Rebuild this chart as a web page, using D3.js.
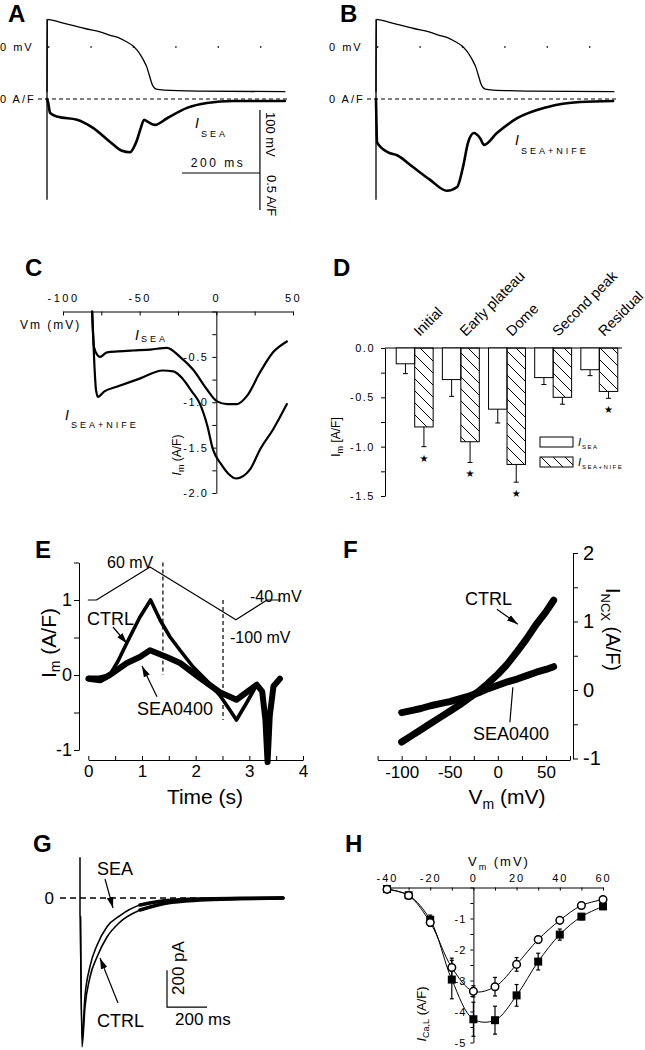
<!DOCTYPE html>
<html>
<head>
<meta charset="utf-8">
<script src="https://cdn.jsdelivr.net/npm/d3@7/dist/d3.min.js"></script>
<style>html,body{margin:0;padding:0;background:#fff;}svg{display:block;}</style>
</head>
<body>
<svg id="fig" width="645" height="1050"></svg>
<script>
// ================= DATA =================
// A/B: action potential command (ms, mV)
const apTime = [0, 1, 30, 60, 100, 136, 160, 190, 205, 220, 231, 240, 250, 256, 262, 270, 280, 300, 392, 610];
const apVolt = [-71, 44, 40, 35, 29, 24, 19, 13, 8, 2, -5, -13, -24, -32, -44, -60, -67, -68.5, -70, -71];
const transientI = -1.36;
// A: I_SEA (ms, A/F)
const aTime = [0, 3, 8, 28, 77, 118, 162, 192, 213, 222, 231, 240, 249, 259, 277, 308, 359, 410, 477, 610];
const aCurrent = [0, -0.05, -0.19, -0.24, -0.28, -0.39, -0.58, -0.70, -0.72, -0.66, -0.55, -0.40, -0.28, -0.31, -0.35, -0.26, -0.12, -0.054, -0.027, -0.027];
// B: I_SEA+NIFE (ms, A/F)
const bTime = [0, 3, 31, 54, 95, 138, 182, 208, 223, 236, 251, 267, 277, 310, 362, 438, 523, 608];
const bCurrent = [0, -0.59, -0.72, -0.76, -0.92, -1.09, -1.24, -1.19, -0.92, -0.59, -0.46, -0.53, -0.62, -0.46, -0.26, -0.11, -0.04, -0.027];
// A scale bar (ms, A/F)
const scaleBarT = [346, 546];
const scaleBarI = [-0.15, -1.0, -1.5];

// C: current vs voltage (mV, A/F)
const cVmSea = [-81, -79.8, -77.5, -75.9, -71.3, -64, -54.3, -43, -32.2, -23.7, -15.2, -6.1, 0.5, 7, 13.5, 20, 28.5, 37, 46];
const cISea = [0, -0.39, -0.48, -0.50, -0.45, -0.44, -0.43, -0.42, -0.40, -0.50, -0.64, -0.86, -0.99, -1.02, -1.02, -0.93, -0.67, -0.45, -0.33];
const cVmNife = [-81, -79.5, -78.5, -77.2, -73, -65, -50, -35, -28, -22, -16, -10.6, -6, -2.2, 3, 8, 13, 22, 28.5, 37, 46];
const cINife = [0, -0.6, -0.86, -0.94, -0.88, -0.83, -0.74, -0.65, -0.66, -0.74, -0.88, -1.02, -1.25, -1.52, -1.68, -1.79, -1.84, -1.74, -1.52, -1.3, -1.02];
const cXTicks = [-100, -75, -50, -25, 0, 25, 50];
const cXLabels = [-100, -50, 0, 50];
const cYTicks = [0, -0.25, -0.5, -0.75, -1, -1.25, -1.5, -1.75, -2];
const cYLabels = [-0.5, -1, -1.5, -2];

// D: bar chart (A/F)
const dCategories = ["Initial", "Early plateau", "Dome", "Second peak", "Residual"];
const dSeries = ["SEA", "SEA+NIFE"];
const dSea = [-0.16, -0.32, -0.62, -0.30, -0.22];
const dSeaErr = [0.10, 0.17, 0.14, 0.07, 0.06];
const dNife = [-0.80, -0.95, -1.18, -0.50, -0.44];
const dNifeErr = [0.20, 0.21, 0.18, 0.07, 0.07];
const dNifeSig = [true, true, true, false, true];
const dYTicks = [0, -0.25, -0.5, -0.75, -1, -1.25, -1.5];
const dYLabels = [0, -0.5, -1, -1.5];

// E: ramp protocol (s, mV) and currents (s, A/F)
const eProtoTime = [0, 0.15, 1.15, 2.75, 3.33, 3.58];
const eProtoMv = [-40, -40, 60, -100, -40, -40];
const eCtrlTime = [0, 0.2, 0.4, 0.55, 0.72, 0.96, 1.16, 1.34, 1.52, 1.71, 1.95, 2.2, 2.45, 2.64, 2.76, 2.95, 3.14, 3.24, 3.3, 3.34, 3.38, 3.45, 3.57];
const eCtrlI = [-0.03, -0.03, 0.0, 0.18, 0.43, 0.77, 1.0, 0.73, 0.51, 0.33, 0.11, -0.07, -0.27, -0.47, -0.6, -0.37, -0.13, -0.22, -0.6, -1.16, -0.55, -0.15, -0.04];
const eSeaTime = [0, 0.22, 0.4, 0.72, 0.96, 1.15, 1.46, 1.71, 2.08, 2.45, 2.76, 2.95, 3.14, 3.24, 3.3, 3.34, 3.38, 3.45, 3.57];
const eSeaI = [-0.05, -0.07, 0.0, 0.16, 0.24, 0.33, 0.24, 0.16, -0.04, -0.23, -0.33, -0.23, -0.13, -0.22, -0.6, -1.16, -0.55, -0.15, -0.05];
const eCursorTime = [1.39, 2.51];
const eCursorTop = [1.5, 1.0];
const eCursorBottom = [0, -0.6];
const eXTicks = [0, 0.5, 1, 1.5, 2, 2.5, 3, 3.5, 4];
const eYTicks = [-1, -0.5, 0, 0.5, 1, 1.5];

// F: I-V of NCX (mV, A/F)
const fVm = [-100, -90, -80, -70, -60, -50, -40, -30, -20, -10, 0, 10, 20, 30, 40, 50, 58];
const fCtrl = [-0.76, -0.67, -0.58, -0.49, -0.4, -0.31, -0.22, -0.12, -0.02, 0.1, 0.23, 0.38, 0.56, 0.75, 0.96, 1.14, 1.31];
const fSea = [-0.33, -0.3, -0.27, -0.23, -0.2, -0.17, -0.13, -0.09, -0.04, 0.02, 0.07, 0.12, 0.16, 0.21, 0.26, 0.3, 0.34];
const fXTicks = [-125, -100, -75, -50, -25, 0, 25, 50, 75];
const fXLabels = [-100, -50, 0, 50];
const fYTicks = [-1, -0.5, 0, 0.5, 1, 1.5, 2];

// G: L-type Ca current traces (ms, pA)
const gTime = [2, 10, 25, 50, 85, 135, 200, 300, 435, 600, 800, 1015];
const gCtrl = [-100, -805, -589, -427, -319, -211, -130, -65, -27, -11, -4, 0];
const gSea = [-100, -760, -530, -370, -255, -155, -95, -38, -14, -5, -2, 0];
const gArtifact = [220, -100];
const gScaleT = [435, 635];
const gScaleI = [-390, -590];

// H: I-V of ICa,L (mV, A/F)
const hVm = [-40, -30, -20, -10, 0, 10, 20, 30, 40, 50, 60];
const hSea = [-0.06, -0.26, -1.13, -2.58, -3.35, -3.2, -2.48, -1.68, -1.06, -0.58, -0.39];
const hSeaErr = [0.03, 0.05, 0.12, 0.3, 0.18, 0.3, 0.22, 0.1, 0.08, 0.06, 0.05];
const hCtrl = [-0.05, -0.25, -1.04, -2.97, -4.25, -4.28, -3.48, -2.39, -1.52, -0.94, -0.61];
const hCtrlErr = [0.03, 0.05, 0.15, 0.62, 0.55, 0.45, 0.35, 0.27, 0.18, 0.1, 0.08];
const hXTicks = [-40, -30, -20, -10, 0, 10, 20, 30, 40, 50, 60];
const hXLabels = [-40, -20, 0, 20, 40, 60];
const hYTicks = [0, -0.5, -1, -1.5, -2, -2.5, -3, -3.5, -4, -4.5, -5];
const hYLabels = [-1, -2, -3, -4, -5];

// ================= DRAWING =================
const FONT = "'Liberation Sans', Arial, Helvetica, sans-serif";
const svg = d3.select("#fig");
svg.append("rect").attr("width", 645).attr("height", 1050).attr("fill", "#fff");
const defs = svg.append("defs");
defs.append("pattern").attr("id", "hatch").attr("patternUnits", "userSpaceOnUse")
  .attr("width", 12).attr("height", 12)
  .append("path").attr("d", "M-1,-1L13,13M-1,11L1,13M11,-1L13,1")
  .attr("stroke", "#000").attr("stroke-width", 1).attr("fill", "none");
defs.append("marker").attr("id", "arr").attr("viewBox", "0 0 10 6")
  .attr("refX", 10).attr("refY", 3).attr("markerWidth", 11).attr("markerHeight", 7)
  .attr("markerUnits", "userSpaceOnUse").attr("orient", "auto")
  .append("path").attr("d", "M0,0L10,3L0,6Z").attr("fill", "#000");

function txt(parent, x, y, content, o = {}) {
  let tr = `translate(${x},${y})`;
  if (o.rot) tr += ` rotate(${o.rot})`;
  const t = parent.append("text").attr("transform", tr)
    .attr("font-family", o.family || FONT).attr("font-size", o.size || 12)
    .attr("text-anchor", o.anchor || "start").attr("fill", "#000");
  if (o.weight) t.attr("font-weight", o.weight);
  if (o.italic) t.attr("font-style", "italic");
  if (o.ls) t.attr("letter-spacing", o.ls);
  if (typeof content === "string") { t.text(content); return t; }
  content.forEach(p => {
    const s = t.append("tspan").text(p.t);
    if (p.size) s.attr("font-size", p.size);
    if (p.dy) s.attr("dy", p.dy);
    if (p.dx) s.attr("dx", p.dx);
    if (p.italic) s.attr("font-style", "italic");
    if (p.ls != null) s.attr("letter-spacing", p.ls);
  });
  return t;
}
function arrow(parent, x1, y1, x2, y2, head = true) {
  const l = parent.append("line").attr("x1", x1).attr("y1", y1).attr("x2", x2).attr("y2", y2)
    .attr("stroke", "#000").attr("stroke-width", 1.2);
  if (head) l.attr("marker-end", "url(#arr)");
}
function styleAxis(g, size, ls) {
  g.attr("font-family", FONT).attr("font-size", size);
  g.selectAll("text").attr("fill", "#000").attr("letter-spacing", ls || 0);
  g.selectAll("path,line").attr("stroke", "#000").attr("stroke-width", 1);
}
function trace(parent, xs, ys, xArr, yArr, width, curve) {
  return parent.append("path").datum(d3.zip(xArr, yArr))
    .attr("d", d3.line().x(d => xs(d[0])).y(d => ys(d[1])).curve(curve || d3.curveLinear))
    .attr("fill", "none").attr("stroke", "#000").attr("stroke-width", width)
    .attr("stroke-linejoin", "round").attr("stroke-linecap", "round");
}

// Panel letters
[["A", 8, 22], ["B", 340, 22], ["C", 25, 276], ["D", 333, 276], ["E", 35, 558], ["F", 343, 558], ["G", 33, 852], ["H", 345, 852]]
  .forEach(([l, x, y]) => txt(svg, x, y, l, { size: 24, weight: "bold" }));

// ---------- A / B ----------
function drawAB(ox, tArr, iArr) {
  const g = svg.append("g");
  const x = d3.scaleLinear().domain([0, 610]).range([ox, ox + 610 * 0.39]);
  const yV = d3.scaleLinear().domain([0, 44]).range([47, 19.3]);
  const yI = d3.scaleLinear().domain([0, -1]).range([99, 173]);
  g.append("line").attr("x1", x(0) + 1).attr("x2", x(610)).attr("y1", yV(0)).attr("y2", yV(0))
    .attr("stroke", "#000").attr("stroke-width", 1.4).attr("stroke-dasharray", "1.4 41");
  g.append("line").attr("x1", x(0) - 9).attr("x2", x(610) + 3).attr("y1", yI(0)).attr("y2", yI(0))
    .attr("stroke", "#000").attr("stroke-width", 1.2).attr("stroke-dasharray", "4 3");
  g.append("line").attr("x1", x(0)).attr("x2", x(0)).attr("y1", yV(d3.max(apVolt))).attr("y2", yI(transientI))
    .attr("stroke", "#000").attr("stroke-width", 1.3);
  trace(g, x, yV, apTime, apVolt, 1.3, d3.curveMonotoneX);
  trace(g, x, yI, tArr, iArr, 2.6, d3.curveMonotoneX);
  txt(g, ox - 47, yV(0) + 4, "0 mV", { size: 11, ls: 2 });
  txt(g, ox - 47, yI(0) + 4, "0 A/F", { size: 11, ls: 2 });
  return { g, x, yV, yI };
}
const A = drawAB(47, aTime, aCurrent);
A.g.append("line").attr("x1", A.x(scaleBarT[0])).attr("x2", A.x(scaleBarT[1]))
  .attr("y1", A.yI(scaleBarI[1])).attr("y2", A.yI(scaleBarI[1])).attr("stroke", "#000").attr("stroke-width", 1.2);
A.g.append("line").attr("x1", A.x(scaleBarT[1])).attr("x2", A.x(scaleBarT[1]))
  .attr("y1", A.yI(scaleBarI[0])).attr("y2", A.yI(scaleBarI[2])).attr("stroke", "#000").attr("stroke-width", 1.2);
txt(A.g, 218, 167, "200 ms", { size: 12, ls: 2.5, anchor: "middle" });
txt(A.g, 266, 112, "100 mV", { size: 13, rot: 90 });
txt(A.g, 267, 175, "0.5 A/F", { size: 13, rot: 90 });
txt(A.g, 195, 128, [{ t: "I", italic: true, size: 14 }, { t: "SEA", size: 9, dy: 9, dx: 2, ls: 3 }], {});
const B = drawAB(376, bTime, bCurrent);
txt(B.g, 515, 145, [{ t: "I", italic: true, size: 14 }, { t: "SEA+NIFE", size: 9, dy: 9, dx: 2, ls: 3 }], {});

// ---------- C ----------
const gC = svg.append("g");
const xC = d3.scaleLinear().domain([-100, 50]).range([63, 293]);
const yC = d3.scaleLinear().domain([0, -2]).range([311.5, 493]);
const cTop = gC.append("g").attr("transform", `translate(0,${yC(0)})`)
  .call(d3.axisTop(xC).tickValues(cXTicks).tickSize(-4).tickSizeOuter(0).tickPadding(9.5)
    .tickFormat(d => cXLabels.includes(d) ? String(d) : ""));
styleAxis(cTop, 11, 2.5);
const cLeft = gC.append("g").attr("transform", `translate(${xC(0)},0)`)
  .call(d3.axisLeft(yC).tickValues(cYTicks).tickSize(4).tickSizeOuter(0).tickPadding(4)
    .tickFormat(d => cYLabels.includes(d) ? d.toFixed(1) : ""));
styleAxis(cLeft, 11, 1.5);
trace(gC, xC, yC, cVmSea, cISea, 2.2, d3.curveMonotoneX);
trace(gC, xC, yC, cVmNife, cINife, 2.2, d3.curveMonotoneX);
txt(gC, 20, 329, "Vm (mV)", { size: 12, ls: 2 });
txt(gC, 135, 340, [{ t: "I", italic: true, size: 14 }, { t: "SEA", size: 9, dy: 2, dx: 2, ls: 3 }], {});
txt(gC, 65, 420, [{ t: "I", italic: true, size: 14 }, { t: "SEA+NIFE", size: 9, dy: 8, dx: 2, ls: 3 }], {});
txt(gC, 181, 455, [{ t: "I", italic: true }, { t: "m", size: 9, dy: 3 }, { t: " (A/F)", dy: -3 }], { rot: -90, anchor: "middle", size: 12 });

// ---------- D ----------
const gD = svg.append("g");
const xD = d3.scaleBand().domain(dCategories).range([387, 627]).paddingInner(0.2).paddingOuter(0.2);
const xDs = d3.scaleBand().domain(dSeries).range([0, xD.bandwidth()]);
const yD = d3.scaleLinear().domain([0, -1.5]).range([348, 496]);
const dAx = gD.append("g").attr("transform", "translate(385,0)")
  .call(d3.axisLeft(yD).tickValues(dYTicks).tickSize(4).tickSizeOuter(0).tickPadding(6)
    .tickFormat(d => dYLabels.includes(d) ? d.toFixed(1) : ""));
styleAxis(dAx, 11, 1.5);
gD.append("line").attr("x1", 385).attr("x2", 622).attr("y1", yD(0)).attr("y2", yD(0)).attr("stroke", "#000");
const dVals = [dSea, dNife], dErrs = [dSeaErr, dNifeErr];
dSeries.forEach((s, si) => {
  const bw = xDs.bandwidth();
  gD.selectAll(null).data(dCategories).join("rect")
    .attr("x", c => xD(c) + xDs(s)).attr("y", yD(0)).attr("width", bw)
    .attr("height", (c, i) => yD(dVals[si][i]) - yD(0))
    .attr("fill", si ? "url(#hatch)" : "#fff").attr("stroke", "#000").attr("stroke-width", 1);
  dCategories.forEach((c, i) => {
    const cx = xD(c) + xDs(s) + bw / 2, v = dVals[si][i], e = dErrs[si][i];
    gD.append("line").attr("x1", cx).attr("x2", cx).attr("y1", yD(v)).attr("y2", yD(v - e)).attr("stroke", "#000");
    gD.append("line").attr("x1", cx - 2.5).attr("x2", cx + 2.5).attr("y1", yD(v - e)).attr("y2", yD(v - e)).attr("stroke", "#000");
    if (si === 1 && dNifeSig[i]) txt(gD, cx, yD(v - e) + 15, "★", { size: 10, anchor: "middle", family: "DejaVu Sans" });
  });
});
dCategories.forEach(c => txt(gD, xD(c) + xD.bandwidth() / 2 + 5, 337, c, { size: 14.5, rot: -45 }));
gD.append("rect").attr("x", 540).attr("y", 437).attr("width", 33).attr("height", 10).attr("fill", "#fff").attr("stroke", "#000");
gD.append("rect").attr("x", 540).attr("y", 457).attr("width", 33).attr("height", 10).attr("fill", "url(#hatch)").attr("stroke", "#000");
txt(gD, 578, 446, [{ t: "I", italic: true, size: 11 }, { t: "SEA", size: 6, dy: 3, dx: 1, ls: 1.5 }], {});
txt(gD, 578, 466, [{ t: "I", italic: true, size: 11 }, { t: "SEA+NIFE", size: 6, dy: 3, dx: 1, ls: 1.5 }], {});
txt(gD, 340, 437, [{ t: "I" }, { t: "m", size: 9, dy: 3 }, { t: " [A/F]", dy: -3 }], { rot: -90, anchor: "middle", size: 12 });

// ---------- E ----------
const gE = svg.append("g");
const xE = d3.scaleLinear().domain([0, 4]).range([88.3, 303]);
const yE = d3.scaleLinear().domain([-1, 1.5]).range([750, 562.5]);
const yP = d3.scaleLinear().domain([-100, 60]).range([619.8, 567]);
const eX = gE.append("g").attr("transform", "translate(0,760)")
  .call(d3.axisBottom(xE).tickValues(eXTicks).tickSize(-4).tickSizeOuter(0).tickPadding(5)
    .tickFormat(d => Number.isInteger(d) ? String(d) : ""));
styleAxis(eX, 17);
const eY = gE.append("g").attr("transform", "translate(79,0)")
  .call(d3.axisLeft(yE).tickValues(eYTicks).tickSize(5).tickSizeOuter(0).tickPadding(2)
    .tickFormat(d => Number.isInteger(d) ? String(d) : ""));
styleAxis(eY, 18);
eCursorTime.forEach((t, i) => gE.append("line").attr("x1", xE(t)).attr("x2", xE(t))
  .attr("y1", yE(eCursorTop[i])).attr("y2", yE(eCursorBottom[i]))
  .attr("stroke", "#000").attr("stroke-width", 1.2).attr("stroke-dasharray", "4 3"));
trace(gE, xE, yP, eProtoTime, eProtoMv, 1.2);
trace(gE, xE, yE, eSeaTime, eSeaI, 6);
trace(gE, xE, yE, eCtrlTime, eCtrlI, 3.6);
txt(gE, 107, 568, "60 mV", { size: 16 });
txt(gE, 250, 602, "-40 mV", { size: 16 });
txt(gE, 230, 643, "-100 mV", { size: 16 });
txt(gE, 87, 625, "CTRL", { size: 18 });
txt(gE, 137, 715, "SEA0400", { size: 18 });
arrow(gE, xE(0.46), yE(0.64), xE(0.72), yE(0.42));
arrow(gE, xE(1.28), yE(-0.29), xE(1.0), yE(0.12));
txt(gE, 56, 643, [{ t: "I" }, { t: "m", size: 14, dy: 4 }, { t: " (A/F)", dy: -4 }], { rot: -90, anchor: "middle", size: 21 });
txt(gE, 205, 804, "Time (s)", { size: 21, anchor: "middle" });

// ---------- F ----------
const gF = svg.append("g");
const xF = d3.scaleLinear().domain([-125, 75]).range([377.6, 570]);
const yF = d3.scaleLinear().domain([-1, 2]).range([758.5, 553]);
const fX = gF.append("g").attr("transform", "translate(0,760)")
  .call(d3.axisBottom(xF).tickValues(fXTicks).tickSize(-4).tickSizeOuter(0).tickPadding(6)
    .tickFormat(d => fXLabels.includes(d) ? String(d) : ""));
styleAxis(fX, 17);
const fY = gF.append("g").attr("transform", "translate(573,0)")
  .call(d3.axisRight(yF).tickValues(fYTicks).tickSize(5).tickSizeOuter(0).tickPadding(5)
    .tickFormat(d => Number.isInteger(d) ? String(d) : ""));
styleAxis(fY, 20);
trace(gF, xF, yF, fVm, fSea, 7);
trace(gF, xF, yF, fVm, fCtrl, 7);
txt(gF, 465, 605, "CTRL", { size: 18 });
txt(gF, 473, 740, "SEA0400", { size: 18 });
arrow(gF, xF(-1), yF(1.18), xF(20.8), yF(0.96));
arrow(gF, xF(12.5), yF(-0.47), xF(15.6), yF(0.04), false);
txt(gF, 507, 804, [{ t: "V" }, { t: "m", size: 14, dy: 5 }, { t: " (mV)", dy: -5 }], { size: 21, anchor: "middle" });
txt(gF, 606, 588, [{ t: "I" }, { t: "NCX", size: 13, dy: 5 }, { t: " (A/F)", dy: -5 }], { size: 20, rot: 90 });

// ---------- G ----------
const gG = svg.append("g");
const xG = d3.scaleLinear().domain([0, 1000]).range([80, 280]);
const yG = d3.scaleLinear().domain([0, -1000]).range([898, 1083]);
gG.append("line").attr("x1", xG(-100)).attr("x2", xG(1015)).attr("y1", yG(0)).attr("y2", yG(0))
  .attr("stroke", "#000").attr("stroke-width", 1.4).attr("stroke-dasharray", "6 4");
gG.append("line").attr("x1", xG(0)).attr("x2", xG(0)).attr("y1", yG(gArtifact[0])).attr("y2", yG(gArtifact[1]))
  .attr("stroke", "#000").attr("stroke-width", 1.5);
trace(gG, xG, yG, gTime, gCtrl, 1.6, d3.curveMonotoneX);
trace(gG, xG, yG, gTime, gSea, 1.6, d3.curveMonotoneX);
const gTail = gTime.map((t, i) => i).filter(i => gTime[i] >= 300);
trace(gG, xG, yG, gTail.map(i => gTime[i]), gTail.map(i => gCtrl[i]), 3.5, d3.curveMonotoneX);
trace(gG, xG, yG, gTail.map(i => gTime[i]), gTail.map(i => gSea[i]), 3.5, d3.curveMonotoneX);
gG.append("path").attr("d", `M${xG(gScaleT[0])},${yG(gScaleI[0])}V${yG(gScaleI[1])}H${xG(gScaleT[1])}`)
  .attr("fill", "none").attr("stroke", "#000").attr("stroke-width", 1.2);
txt(gG, 54, 904, "0", { size: 17, anchor: "end" });
txt(gG, 97, 875, "SEA", { size: 18 });
txt(gG, 97, 1027, "CTRL", { size: 18 });
arrow(gG, 105, 879, 113, 908);
arrow(gG, 118, 1003, 100, 958);
txt(gG, 184, 995, "200 pA", { size: 17, rot: -90 });
txt(gG, 175, 1025, "200 ms", { size: 17 });

// ---------- H ----------
const gH = svg.append("g");
const xH = d3.scaleLinear().domain([-40, 60]).range([387, 603]);
const yH = d3.scaleLinear().domain([0, -5]).range([887.5, 1042.5]);
const hX = gH.append("g").attr("transform", `translate(0,${yH(0)})`)
  .call(d3.axisTop(xH).tickValues(hXTicks).tickSize(-3).tickSizeOuter(0).tickPadding(5.5)
    .tickFormat(d => hXLabels.includes(d) ? String(d) : ""));
styleAxis(hX, 11, 2);
const hY = gH.append("g").attr("transform", `translate(${xH(0)},0)`)
  .call(d3.axisLeft(yH).tickValues(hYTicks).tickSize(3).tickSizeOuter(0).tickPadding(4)
    .tickFormat(d => hYLabels.includes(d) ? String(d) : ""));
styleAxis(hY, 11, 1);
const hCurve = d3.curveCatmullRom.alpha(0.5);
trace(gH, xH, yH, hVm, hCtrl, 1, hCurve);
trace(gH, xH, yH, hVm, hSea, 1, hCurve);
[[hCtrl, hCtrlErr], [hSea, hSeaErr]].forEach(([vals, errs]) => {
  hVm.forEach((v, i) => {
    const cx = xH(v);
    gH.append("line").attr("x1", cx).attr("x2", cx).attr("y1", yH(vals[i] + errs[i])).attr("y2", yH(vals[i] - errs[i])).attr("stroke", "#000").attr("stroke-width", 1.2);
    [vals[i] + errs[i], vals[i] - errs[i]].forEach(e => gH.append("line").attr("x1", cx - 2).attr("x2", cx + 2)
      .attr("y1", yH(e)).attr("y2", yH(e)).attr("stroke", "#000").attr("stroke-width", 1.2));
  });
});
gH.selectAll(null).data(d3.zip(hVm, hCtrl)).join("rect")
  .attr("x", d => xH(d[0]) - 4).attr("y", d => yH(d[1]) - 4).attr("width", 8).attr("height", 8).attr("fill", "#000");
gH.selectAll(null).data(d3.zip(hVm, hSea)).join("circle")
  .attr("cx", d => xH(d[0])).attr("cy", d => yH(d[1])).attr("r", 3.8)
  .attr("fill", "#fff").attr("stroke", "#000").attr("stroke-width", 1.5);
txt(gH, 468, 866, [{ t: "V" }, { t: "m", size: 9, dy: 4 }, { t: " (mV)", dy: -4 }], { size: 13, ls: 2 });
txt(gH, 426, 1014, [{ t: "I", italic: true }, { t: "Ca,L", size: 9, dy: 3 }, { t: " (A/F)", dy: -3 }], { rot: -90, anchor: "middle", size: 13 });
</script>
</body>
</html>
